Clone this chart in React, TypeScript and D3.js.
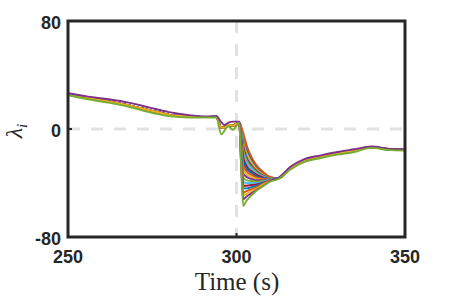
import React from 'react'
import * as d3 from 'd3'

// time grids for the three parts of each trace
const tPre = [250, 256, 262, 268, 274, 280, 286, 291, 294, 295.5, 296.5, 297.5, 299, 300.8]
const tDrop = [301.4, 302, 303, 304.5, 306, 308, 310]
const tTail = [312.5, 316, 320, 325, 330, 335, 340, 345, 350]

// before the step (top edge purple, bottom edge green)
const preHigh = [26.5, 24, 22, 19.5, 16, 12.5, 10.3, 9.3, 9.7, 5, 3, 4.5, 5.5, 5.5]
const preMid = [25.5, 23, 20.5, 17.5, 14, 10.5, 9.3, 8.8, 9, 1, 1, 3, 2.5, 5]
const preLow = [25, 22, 19.5, 16.5, 12.5, 9.5, 8.5, 8.5, 8.5, -4, -1, 2, -0.5, 4.5]

// the drop after t = 300, one row per trace
const dropRows = [
  [1, -6, -15, -23, -28.5, -33, -36],
  [2, -3, -12, -21, -27, -32, -35.5],
  [0, -9, -18, -25, -30, -34, -36.5],
  [-1, -12, -21, -27, -31, -34.5, -36.5],
  [-2, -15, -23, -28.5, -32, -35, -36.5],
  [-4, -18, -25, -30, -33, -35.5, -37],
  [-6, -21, -27.5, -31.5, -34, -36, -37],
  [-8, -24, -29.5, -32.5, -35, -36.5, -37],
  [-10, -27, -31.5, -34, -36, -37, -37.5],
  [-12, -30, -33.5, -35.5, -37, -37.5, -37.5],
  [-14, -33, -35.5, -37, -38, -38, -37.5],
  [-16, -36, -38, -38.5, -39, -38.5, -37.5],
  [-18, -39, -40, -40, -40, -39, -37.5],
  [-20, -42, -42, -41.5, -41, -39.5, -38],
  [-22, -44, -44, -43, -42, -40, -38],
  [-24, -47, -46, -44.5, -43, -40.5, -38],
  [-26, -49, -48, -46, -44, -41, -38.5],
  [-28, -52, -50, -47.5, -45, -42, -38.5],
  [-30, -57, -53, -49, -45.5, -42, -39],
]

// recovery
const tailHigh = [-36, -28, -22.5, -19.5, -17, -15, -13, -14.5, -15]
const tailMid = [-36.5, -29, -23.5, -20.5, -18, -16, -13.5, -15, -15.5]
const tailLow = [-37, -30, -24.5, -21.5, -19, -17, -14, -15.5, -16]

const colors = ['#0072BD', '#D95319', '#EDB120', '#7E2F8E', '#77AC30', '#4DBEEE', '#A2142F']
const xTicks = [250, 300, 350]
const yTicks = [-80, 0, 80]

export default function App() {
  const width = 449, height = 299
  const x = d3.scaleLinear().domain([250, 350]).range([68, 405])
  const y = d3.scaleLinear().domain([-80, 80]).range([237, 21])

  const times = [...tPre, ...tDrop, ...tTail]
  const line = d3.line<[number, number]>()
    .x(d => x(d[0]))
    .y(d => y(d[1]))
    .curve(d3.curveMonotoneX)

  const n = dropRows.length
  const traces = dropRows.map((row, i) => {
    const pre = i === n - 2 ? preHigh : i === n - 1 ? preLow : preMid
    const tail = i === n - 2 ? tailHigh : i === n - 1 ? tailLow : tailMid
    const vals = [...pre, ...row, ...tail]
    return times.map((t, k) => [t, vals[k]] as [number, number])
  })

  const ink = '#262626'
  const tickFont = '"Liberation Sans", Arial, sans-serif'

  return (
    <svg width={width} height={height} style={{position: 'absolute', left: 0, top: 0}}>
      <rect width={width} height={height} fill='white' />
      {/* dashed grid */}
      <line x1={x(300)} x2={x(300)} y1={y(80)} y2={y(-80)} stroke='#e2e2e2' strokeWidth={3} strokeDasharray='12 11' />
      <line x1={x(250)} x2={x(350)} y1={y(0)} y2={y(0)} stroke='#e2e2e2' strokeWidth={3} strokeDasharray='12 11' />

      {traces.map((tr, i) => (
        <path key={i} d={line(tr) || ''} fill='none' stroke={colors[i % colors.length]} strokeWidth={1.9} />
      ))}

      {/* ticks */}
      {xTicks.map(t => (
        <line key={'xt' + t} x1={x(t)} x2={x(t)} y1={y(-80)} y2={y(-80) - 4} stroke={ink} strokeWidth={2} />
      ))}
      {yTicks.map(t => (
        <line key={'yt' + t} x1={x(250)} x2={x(250) + 4} y1={y(t)} y2={y(t)} stroke={ink} strokeWidth={2} />
      ))}

      <rect x={68} y={21} width={337} height={216} fill='none' stroke={ink} strokeWidth={3} />

      {xTicks.map(t => (
        <text key={'xl' + t} x={x(t)} y={263} textAnchor='middle' fontFamily={tickFont} fontWeight='bold' fontSize={18} fill={ink}>{t}</text>
      ))}
      {yTicks.map(t => (
        <text key={'yl' + t} x={61} y={y(t) + 8} textAnchor='end' fontFamily={tickFont} fontWeight='bold' fontSize={18} fill={ink}>{t}</text>
      ))}

      <text x={237} y={290} textAnchor='middle' fontFamily='"Liberation Serif", "Times New Roman", serif' fontSize={25} fill={ink}>Time (s)</text>

      <text transform='translate(22,131) rotate(-90)' textAnchor='middle' fontFamily='"Liberation Serif", "Times New Roman", serif' fontSize={24} fill={ink} fontStyle='italic'>
        λ<tspan fontSize={15} dy={5}>i</tspan>
      </text>
    </svg>
  )
}
